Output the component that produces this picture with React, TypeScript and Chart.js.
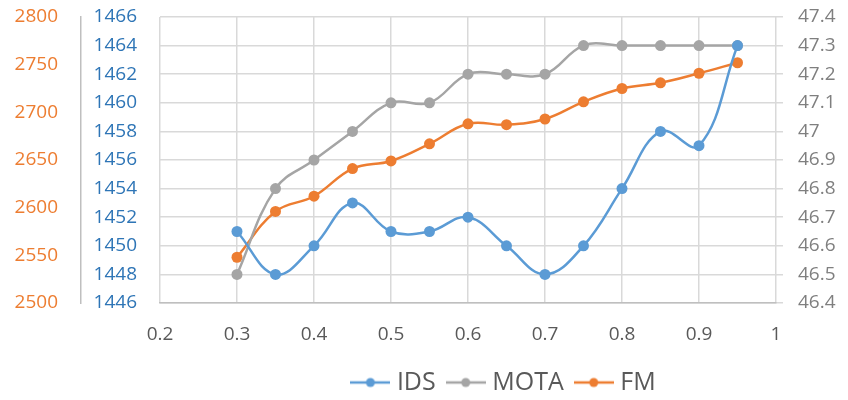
import React, { useRef, useEffect } from "react";
import { Chart, registerables } from "chart.js";

Chart.register(...registerables);

// x positions of the points
const thresholds = [0.3, 0.35, 0.4, 0.45, 0.5, 0.55, 0.6, 0.65, 0.7, 0.75, 0.8, 0.85, 0.9, 0.95];

const idsValues = [1451, 1448, 1450, 1453, 1451, 1451, 1452, 1450, 1448, 1450, 1454, 1458, 1457, 1464];
const motaValues = [46.5, 46.8, 46.9, 47.0, 47.1, 47.1, 47.2, 47.2, 47.2, 47.3, 47.3, 47.3, 47.3, 47.3];
const fmValues = [2548, 2596, 2612, 2641, 2649, 2667, 2688, 2687, 2693, 2711, 2725, 2731, 2741, 2752];

const seriesNames = ["IDS", "MOTA", "FM"];
const seriesColors = ["#5B9BD5", "#A5A5A5", "#ED7D31"];

const FONT = "Open Sans";
const FONT_SIZE = 19;
const LEGEND_FONT_SIZE = 25;

// legend symbol: short line with a dot in the middle
const makeLegendIcon = (color: string) => {
    const c = document.createElement("canvas");
    c.width = 40;
    c.height = 12;
    const ctx = c.getContext("2d")!;
    ctx.strokeStyle = color;
    ctx.lineWidth = 2.5;
    ctx.beginPath();
    ctx.moveTo(0, 6);
    ctx.lineTo(40, 6);
    ctx.stroke();
    ctx.fillStyle = color;
    ctx.beginPath();
    ctx.arc(20, 6, 4.5, 0, Math.PI * 2);
    ctx.fill();
    return c;
};

const toPoints = (values: number[]) => values.map((v, i) => ({ x: thresholds[i], y: v }));
const oneDecimal = (v: string | number) => Number(Number(v).toFixed(1)).toString();

// move the legend right and a little down, like the original
const legendShift = {
    id: "legendShift",
    afterLayout(chart: Chart) {
        const lg: any = (chart as any).legend;
        if (lg) {
            lg.left += 82;
            lg.right += 82;
            lg.top += 5;
            lg.bottom += 5;
        }
    },
};

const App: React.FC = () => {
    const canvasRef = useRef<HTMLCanvasElement | null>(null);
    const chartRef = useRef<Chart | null>(null);

    useEffect(() => {
        document.body.style.margin = "0";
        if (!canvasRef.current) return;
        if (chartRef.current) chartRef.current.destroy();

        const icons = seriesColors.map(makeLegendIcon);
        const axisIds = ["yIDS", "yMOTA", "yFM"];
        const allValues = [idsValues, motaValues, fmValues];

        chartRef.current = new Chart(canvasRef.current, {
            type: "line",
            data: {
                datasets: seriesNames.map((name, i) => ({
                    label: name,
                    data: toPoints(allValues[i]),
                    yAxisID: axisIds[i],
                    borderColor: seriesColors[i],
                    backgroundColor: seriesColors[i],
                    borderWidth: 2.5,
                    pointRadius: 5.5,
                    pointBorderWidth: 0,
                    tension: 0.4,
                    fill: false,
                })),
            },
            plugins: [legendShift],
            options: {
                responsive: true,
                maintainAspectRatio: false,
                animation: false,
                layout: { padding: { top: 17, left: 0, right: 0, bottom: 0 } },
                plugins: {
                    tooltip: { enabled: false },
                    legend: {
                        position: "bottom",
                        labels: {
                            usePointStyle: true,
                            pointStyleWidth: 28,
                            padding: 16,
                            color: "#595959",
                            font: { family: FONT, size: LEGEND_FONT_SIZE },
                            generateLabels: (chart) =>
                                chart.data.datasets.map((ds, i) => ({
                                    text: ds.label as string,
                                    pointStyle: icons[i],
                                    fillStyle: seriesColors[i],
                                    strokeStyle: seriesColors[i],
                                    lineWidth: 0,
                                    fontColor: "#595959",
                                    hidden: false,
                                    datasetIndex: i,
                                })),
                        },
                    },
                },
                scales: {
                    x: {
                        type: "linear",
                        min: 0.2,
                        max: 1,
                        ticks: {
                            stepSize: 0.1,
                            padding: 20,
                            color: "#595959",
                            font: { family: FONT, size: FONT_SIZE },
                            callback: (v) => oneDecimal(v),
                        },
                        grid: { color: "#D9D9D9", lineWidth: 1.5, drawTicks: false },
                        border: { color: "#BFBFBF", width: 1.5 },
                        afterFit: (scale) => {
                            scale.height = 46;
                        },
                    },
                    yFM: {
                        position: "left",
                        weight: 1,
                        min: 2500,
                        max: 2800,
                        ticks: {
                            stepSize: 50,
                            padding: 0,
                            color: "#ED7D31",
                            font: { family: FONT, size: FONT_SIZE },
                            callback: (v) => String(v),
                        },
                        grid: {
                            display: true,
                            drawOnChartArea: false,
                            drawTicks: true,
                            tickLength: 23,
                            tickColor: "transparent",
                        },
                        border: { display: true, color: "#BFBFBF", width: 1.5 },
                        afterFit: (scale) => {
                            scale.width = 81;
                        },
                    },
                    yIDS: {
                        position: "left",
                        weight: 0,
                        min: 1446,
                        max: 1466,
                        ticks: {
                            stepSize: 2,
                            padding: 0,
                            color: "#2E75B6",
                            font: { family: FONT, size: FONT_SIZE },
                            callback: (v) => String(v),
                        },
                        grid: {
                            color: "#D9D9D9",
                            lineWidth: 1.5,
                            drawTicks: true,
                            tickLength: 23,
                            tickColor: "transparent",
                        },
                        border: { display: false },
                        afterFit: (scale) => {
                            scale.width = 79;
                        },
                    },
                    yMOTA: {
                        position: "right",
                        min: 46.4,
                        max: 47.4,
                        ticks: {
                            stepSize: 0.1,
                            padding: 0,
                            color: "#7F7F7F",
                            font: { family: FONT, size: FONT_SIZE },
                            callback: (v) => oneDecimal(v),
                        },
                        grid: {
                            drawOnChartArea: false,
                            drawTicks: true,
                            tickLength: 22,
                            tickBorderDash: [7, 40],
                            tickColor: "#D9D9D9",
                            lineWidth: 1.5,
                        },
                        border: { display: false },
                        afterFit: (scale) => {
                            scale.width = 72;
                        },
                    },
                },
            },
        });

        return () => {
            if (chartRef.current) {
                chartRef.current.destroy();
                chartRef.current = null;
            }
        };
    }, []);

    return (
        <div style={{ width: 848, height: 400, position: "relative" }}>
            <canvas ref={canvasRef} />
        </div>
    );
};

export default App;
